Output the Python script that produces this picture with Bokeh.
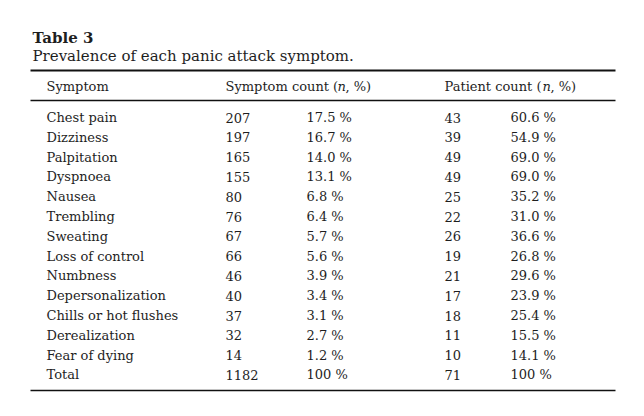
from bokeh.plotting import figure
from bokeh.models import ColumnDataSource, Range1d
from bokeh.core.properties import value
from bokeh.embed import file_html
from bokeh.resources import INLINE

title = "Table 3"
subtitle = "Prevalence of each panic attack symptom."
headers = ["Symptom", "Symptom count (n, %)", "Patient count (n, %)"]
symptoms = ["Chest pain", "Dizziness", "Palpitation", "Dyspnoea", "Nausea", "Trembling",
            "Sweating", "Loss of control", "Numbness", "Depersonalization",
            "Chills or hot flushes", "Derealization", "Fear of dying", "Total"]
symptom_n = ["207", "197", "165", "155", "80", "76", "67", "66", "46", "40", "37", "32", "14", "1182"]
symptom_pct = ["17.5 %", "16.7 %", "14.0 %", "13.1 %", "6.8 %", "6.4 %", "5.7 %", "5.6 %",
               "3.9 %", "3.4 %", "3.1 %", "2.7 %", "1.2 %", "100 %"]
patient_n = ["43", "39", "49", "49", "25", "22", "26", "19", "21", "17", "18", "11", "10", "71"]
patient_pct = ["60.6 %", "54.9 %", "69.0 %", "69.0 %", "35.2 %", "31.0 %", "36.6 %", "26.8 %",
               "29.6 %", "23.9 %", "25.4 %", "15.5 %", "14.1 %", "100 %"]

W, H = 628, 400
p = figure(width=W, height=H, output_backend="svg", toolbar_location=None,
           x_range=Range1d(0, W), y_range=Range1d(H, 0),
           min_border=0, outline_line_color=None)
p.axis.visible = False
p.grid.visible = False
p.background_fill_color = "white"
p.border_fill_color = "white"

FONT = value("DejaVu Serif")
TXT = "#1e1e1e"
FS = "13px"

# title
p.text(x=[32], y=[37], text=[title], text_font=FONT, text_font_size="15px",
       text_font_style="bold", text_baseline="middle", text_color=TXT)
p.text(x=[32], y=[55], text=[subtitle], text_font=FONT, text_font_size="15px",
       text_baseline="middle", text_color=TXT)

# rules
p.segment(x0=[30], y0=[70], x1=[615], y1=[70], line_color="#111", line_width=2)
p.segment(x0=[30, 30], y0=[100, 390], x1=[615, 615], y1=[100, 390], line_color="#111", line_width=1.5)

# headers
p.text(x=[46], y=[86], text=[headers[0]], text_font=FONT, text_font_size=FS,
       text_baseline="middle", text_color=TXT)
for hx, h, dn, dr in [(225, headers[1], 112, 120), (444, headers[2], 98, 106)]:
    pre, rest = h.split("(n")
    p.text(x=[hx], y=[86], text=[pre + "("], text_font=FONT, text_font_size=FS,
           text_baseline="middle", text_color=TXT)
    p.text(x=[hx + dn], y=[86], text=["n"], text_font=FONT, text_font_size=FS,
           text_font_style="italic", text_baseline="middle", text_color=TXT)
    p.text(x=[hx + dr], y=[86], text=[rest], text_font=FONT, text_font_size=FS,
           text_baseline="middle", text_color=TXT)

rows_y = [117 + i * 19.8 for i in range(len(symptoms))]
src = ColumnDataSource(dict(y=rows_y, s=symptoms, a=symptom_n, b=symptom_pct,
                            c=patient_n, d=patient_pct))
for xx, col in [(46, "s"), (225, "a"), (306, "b"), (444, "c"), (510, "d")]:
    p.text(x=xx, y="y", text=col, source=src, text_font=FONT, text_font_size=FS,
           text_baseline="middle", text_color=TXT)

open("out.html", "w").write(file_html(p, INLINE))
